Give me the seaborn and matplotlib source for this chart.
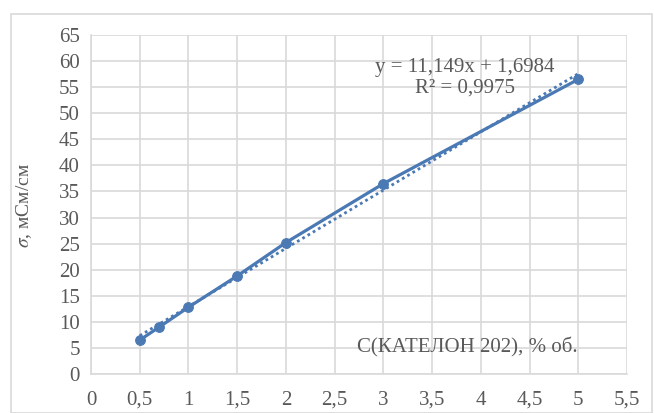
import matplotlib
matplotlib.use("Agg")
import matplotlib.pyplot as plt
import seaborn as sns
import pandas as pd
from matplotlib.patches import Rectangle

conc = [0.5, 0.7, 1.0, 1.5, 2.0, 3.0, 5.0]
sigma = [6.5, 9.0, 12.8, 18.8, 25.2, 36.5, 56.5]
xticks = [0, 0.5, 1, 1.5, 2, 2.5, 3, 3.5, 4, 4.5, 5, 5.5]
xtick_labels = ["0", "0,5", "1", "1,5", "2", "2,5", "3", "3,5", "4", "4,5", "5", "5,5"]
yticks = [0, 5, 10, 15, 20, 25, 30, 35, 40, 45, 50, 55, 60, 65]
eq_text = "y = 11,149x + 1,6984"
r2_text = "R² = 0,9975"
xlabel = "С(КАТЕЛОН 202), % об."
ylabel_unit = ", мСм/см"

df = pd.DataFrame({"c": conc, "s": sigma})

sns.set_theme(style="white")
plt.rcParams["font.family"] = ["Liberation Serif", "DejaVu Serif"]
plt.rcParams["mathtext.fontset"] = "stix"

color = "#4A79B4"
grid_c = "#D9D9D9"
text_c = "#595959"

fig = plt.figure(figsize=(6.54, 4.13), dpi=100)
fig.patch.set_facecolor("white")
fig.patches.append(Rectangle((11 / 654, 0), 641 / 654, 1 - 14 / 413, transform=fig.transFigure,
                             fill=False, edgecolor=grid_c, linewidth=1.2))
ax = fig.add_axes([91 / 654, 1 - 374 / 413, (627 - 91) / 654, (374 - 35) / 413])

sns.regplot(data=df, x="c", y="s", scatter=False, ci=None, ax=ax, truncate=True,
            line_kws=dict(color=color, linestyle=(0, (1, 1.2)), linewidth=2.0))
sns.lineplot(data=df, x="c", y="s", ax=ax, color=color, linewidth=2.3,
             marker="o", markersize=7, markeredgecolor=color)

ax.set_xlim(0, 5.5)
ax.set_ylim(0, 65)
ax.set_xticks(xticks)
ax.set_xticklabels(xtick_labels)
ax.set_yticks(yticks)
ax.set_yticklabels([str(v) for v in yticks])
ax.tick_params(axis="both", labelsize=15, colors=text_c, length=0)
ax.tick_params(axis="x", pad=12)
ax.tick_params(axis="y", pad=8)
ax.grid(True, color=grid_c, linewidth=1.2)
for side in ["top", "right"]:
    ax.spines[side].set_visible(False)
for side in ["left", "bottom"]:
    ax.spines[side].set_color(grid_c)
    ax.spines[side].set_linewidth(1.2)
ax.set_xlabel("")
ax.set_ylabel("")

ax.text(3.84, 58.7, eq_text, ha="center", va="center", fontsize=15, color=text_c)
ax.text(3.84, 54.9, r2_text, ha="center", va="center", fontsize=15, color=text_c)
ax.text(3.86, 5.0, xlabel, ha="center", va="center", fontsize=15, color=text_c)

fig.text(24 / 654, 1 - 205 / 413, r"$\sigma$" + ylabel_unit, rotation=90, ha="center", va="center",
         fontsize=14, color=text_c)

fig.savefig("out.png", dpi=100)
